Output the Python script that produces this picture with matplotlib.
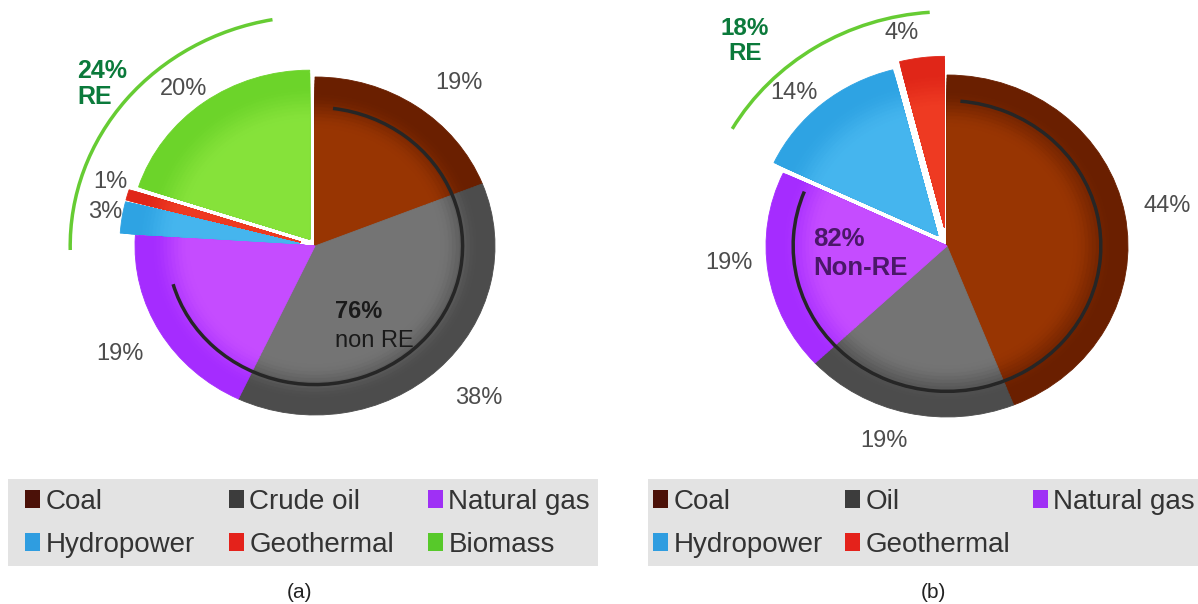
import numpy as np
import matplotlib
matplotlib.use('Agg')
import matplotlib.pyplot as plt
from matplotlib.patches import Arc, Patch, Rectangle
from matplotlib.colors import to_rgb

plt.rcParams['font.family'] = ['Liberation Sans', 'DejaVu Sans']

# (a) energy mix, percent
labels_a = ['Coal', 'Crude oil', 'Natural gas', 'Hydropower', 'Geothermal', 'Biomass']
values_a = [19, 38, 19, 3, 1, 20]
re_a, nonre_a = 24, 76

# (b) energy mix, percent
labels_b = ['Coal', 'Oil', 'Natural gas', 'Hydropower', 'Geothermal']
values_b = [44, 19, 19, 14, 4]
re_b, nonre_b = 18, 82

# colours: outer rim, inner body, legend square
OUTER = {'Coal': '#6a1f00', 'Crude oil': '#4c4c4c', 'Oil': '#4c4c4c',
         'Natural gas': '#a52cff', 'Hydropower': '#2ea3e3',
         'Geothermal': '#e02618', 'Biomass': '#6cd42a'}
INNER = {'Coal': '#983502', 'Crude oil': '#747474', 'Oil': '#747474',
         'Natural gas': '#c54cff', 'Hydropower': '#45b5ee',
         'Geothermal': '#ee3a22', 'Biomass': '#86e23a'}
LEG = {'Coal': '#4b1108', 'Crude oil': '#3c3c3c', 'Oil': '#3c3c3c',
       'Natural gas': '#9f30f5', 'Hydropower': '#2f9de0',
       'Geothermal': '#e4221b', 'Biomass': '#57c92a'}


def shaded_pie(ax, values, names, explode):
    outer = [np.array(to_rgb(OUTER[n])) for n in names]
    inner = [np.array(to_rgb(INNER[n])) for n in names]
    for r in np.linspace(1.0, 0.66, 18):
        t = np.clip((0.92 - r) / 0.22, 0, 1)
        t = t * t * (3 - 2 * t)
        cols = [tuple(o + (i - o) * t) for o, i in zip(outer, inner)]
        wedges, _ = ax.pie(values, radius=r, colors=cols, explode=explode,
                           startangle=90, counterclock=False,
                           wedgeprops=dict(linewidth=0.6))
        for w in wedges:
            w.set_edgecolor(w.get_facecolor())


def pct_labels(ax, values, dist, nudge, size):
    v = np.array(values, dtype=float)
    mid = 90 - 360 * (np.cumsum(v) - v / 2) / v.sum()
    for val, d, n, a in zip(values, dist, nudge, mid):
        th = np.deg2rad(a + n)
        ax.text(d * np.cos(th), d * np.sin(th), f'{val}%', ha='center',
                va='center', fontsize=size, color='#4d4d4d')


def legend_box(fig, ax, names, box, anchor):
    x0, x1, top, bot = box
    fig.patches.append(Rectangle((x0 / 1198, 1 - bot / 604), (x1 - x0) / 1198,
                                 (bot - top) / 604, transform=fig.transFigure,
                                 facecolor='#e3e3e3', edgecolor='none', zorder=-1))
    handles = [Patch(facecolor=LEG[n], edgecolor='none', label=n) for n in names]
    order = [r * 3 + c for c in range(3) for r in range(2) if r * 3 + c < len(names)]
    ax.legend(handles=[handles[i] for i in order], loc='upper left',
              bbox_to_anchor=(anchor[0] / 1198, 1 - anchor[2] / 604,
                              (anchor[1] - anchor[0]) / 1198, 0),
              bbox_transform=fig.transFigure, mode='expand', ncol=3,
              frameon=False, fontsize=20, handlelength=0.55, handleheight=0.6,
              handletextpad=0.2, labelspacing=0.6, borderpad=0,
              borderaxespad=0, labelcolor='#333333')


fig = plt.figure(figsize=(11.98, 6.04), dpi=100)

# ---- (a)
ax1 = fig.add_axes([0, 164 / 604, 600 / 1198, 440 / 604])
shaded_pie(ax1, values_a, labels_a, [0, 0, 0, 0.085, 0.085, 0.05])
ax1.set_aspect('auto')
ax1.set_xlim((0 - 315) / 180, (600 - 315) / 180)
ax1.set_ylim((164 - 358) / 169, (604 - 358) / 169)
ax1.axis('off')
pct_labels(ax1, values_a, [1.25, 1.28, 1.26, 1.18, 1.20, 1.18],
           [-5.5, 2.2, 0, -0.8, -2.2, 2.3], 17)
ax1.add_patch(Arc((0, 0), 1.64, 1.64, theta1=196, theta2=443, color='#262626', lw=2.5))
ax1.add_patch(Arc((0, 0), 2.72, 2.72, theta1=100, theta2=181, color='#66cc33', lw=2.5))
ax1.text(-1.32, 0.96, f'{re_a}%\nRE', ha='left', va='center', fontsize=18,
         fontweight='bold', color='#0b7a3b', linespacing=1.1)
ax1.text(0.111, -0.385, f'{nonre_a}%', ha='left', va='center', fontsize=17,
         fontweight='bold', color='#1a1a1a')
ax1.text(0.111, -0.562, 'non RE', ha='left', va='center', fontsize=17,
         color='#1a1a1a')
legend_box(fig, ax1, labels_a, (8, 598, 479, 566), (25, 590, 489))
fig.text(300 / 1198, 1 - 592 / 604, '(a)', ha='center', va='center',
         fontsize=15, color='#222222')

# ---- (b)
ax2 = fig.add_axes([600 / 1198, 164 / 604, 598 / 1198, 440 / 604])
shaded_pie(ax2, values_b, labels_b, [0, 0, 0, 0.08, 0.11])
ax2.set_aspect('auto')
ax2.set_xlim((600 - 947) / 181, (1198 - 947) / 181)
ax2.set_ylim((164 - 358) / 171, (604 - 358) / 171)
ax2.axis('off')
pct_labels(ax2, values_b, [1.24, 1.19, 1.21, 1.23, 1.27],
           [0, -4.4, -4.3, 3.9, 4.2], 17)
ax2.add_patch(Arc((0, 0), 1.70, 1.70, theta1=158, theta2=445, color='#262626', lw=2.5))
ax2.add_patch(Arc((0, 0), 2.74, 2.74, theta1=94, theta2=150, color='#66cc33', lw=2.5))
ax2.text(-1.116, 1.2, f'{re_b}%\nRE', ha='center', va='center', fontsize=17.5,
         fontweight='bold', color='#0b7a3b', linespacing=1.1)
ax2.text(-0.74, 0.041, f'{nonre_b}%', ha='left', va='center', fontsize=18.5,
         fontweight='bold', color='#4a1868')
ax2.text(-0.74, -0.129, 'Non-RE', ha='left', va='center', fontsize=18.5,
         fontweight='bold', color='#4a1868')
legend_box(fig, ax2, labels_b, (648, 1198, 479, 566), (653, 1195, 489))
fig.text(933 / 1198, 1 - 592 / 604, '(b)', ha='center', va='center',
         fontsize=15, color='#222222')

fig.savefig('out.png', dpi=100)
